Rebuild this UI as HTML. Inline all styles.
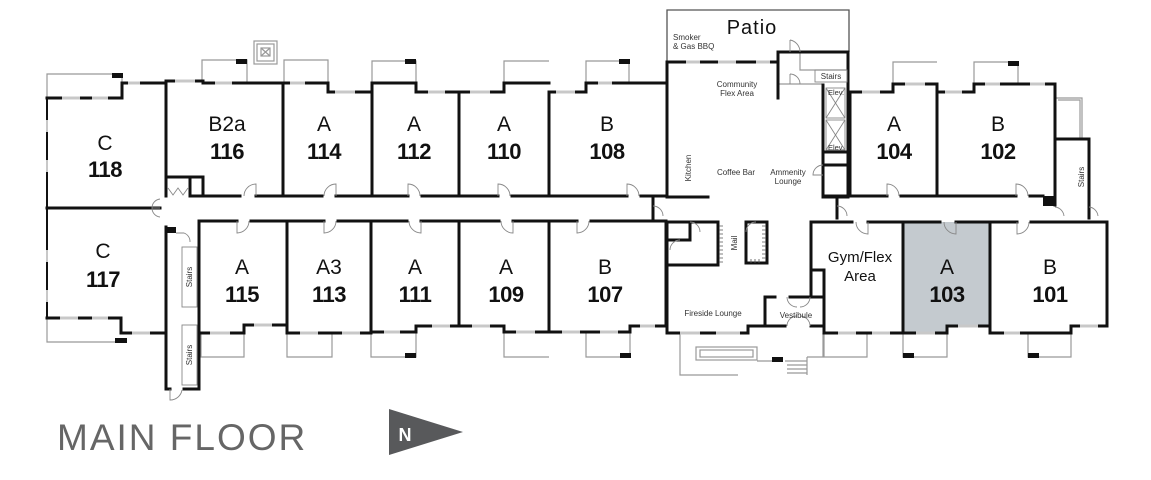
<!DOCTYPE html>
<html><head><meta charset="utf-8"><style>
html,body{margin:0;padding:0;background:#fff;}
svg{display:block;}
.w{fill:none;stroke:#111;stroke-width:3;stroke-linecap:square;}
.wt{fill:none;stroke:#111;stroke-width:2;}
.t{fill:none;stroke:#999;stroke-width:1.2;}
.d{fill:none;stroke:#888;stroke-width:0.9;}
.g{fill:none;stroke:#c8c8c8;stroke-width:3;}
.L{font-family:"Liberation Sans",sans-serif;font-size:21px;fill:#111;text-anchor:middle;}
.N{font-family:"Liberation Sans",sans-serif;font-size:22px;font-weight:bold;fill:#111;text-anchor:middle;letter-spacing:-0.5px;}
.s{font-family:"Liberation Sans",sans-serif;font-size:8px;fill:#333;text-anchor:middle;}
</style></head><body>
<svg width="1151" height="480" viewBox="0 0 1151 480" xmlns="http://www.w3.org/2000/svg">
<rect width="1151" height="480" fill="#fff"/>
<!-- unit 103 fill -->
<path d="M903,222 H990 V326 H947 V333 H903 Z" fill="#c4cacf"/>

<!-- Balconies thin -->
<g class="t">
<path d="M47,98 V74 H122 V83"/>
<path d="M202,81 V60 H247 V83"/>
<rect x="254" y="41" width="23" height="23"/>
<rect x="257" y="44" width="17" height="17"/>
<rect x="261" y="48" width="9" height="8"/>
<path d="M261,48 L270,56 M270,48 L261,56"/>
<path d="M284,83 V60 H328 V92"/>
<path d="M372,83 V61 H416 V83"/>
<path d="M504,83 V61 H549"/>
<path d="M586,83 V61 H629 V83"/>
<path d="M893,84 V62 H937"/>
<path d="M974,84 V62 H1018 V84"/>
<path d="M1055,98 H1082 V139"/>
<path d="M1058,100 H1080 V139"/>
<path d="M47,318 V342 H121"/>
<path d="M201,333 V357 H244 V333"/>
<path d="M287,333 V357 H332 V333"/>
<path d="M371,332 V357 H416 V332"/>
<path d="M504,332 V357 H549"/>
<path d="M586,332 V357 H630 V332"/>
<path d="M824,333 V357 H867 V333"/>
<path d="M903,333 V357 H947 V333"/>
<path d="M1028,333 V357 H1071 V333"/>
<path d="M680,333 V375 H738"/>
<rect x="696" y="347" width="61" height="13"/>
<rect x="700" y="350" width="53" height="7"/>
<path d="M757,361 H783 M785,361 H807 M787,365 H807 M787,369 H807 M787,373 H807 M807,357 V375 M807,357 H823 V333"/>
<path d="M800,52 V70 H848"/>
<path d="M778,84 H822"/>
<path d="M1055,139 V200"/>
</g>
<!-- black blocks -->
<g fill="#111">
<rect x="112" y="73" width="11" height="5"/>
<rect x="236" y="59" width="11" height="5"/>
<rect x="405" y="59" width="11" height="5"/>
<rect x="619" y="59" width="11" height="5"/>
<rect x="1008" y="61" width="11" height="5"/>
<rect x="115" y="338" width="12" height="5"/>
<rect x="405" y="353" width="11" height="5"/>
<rect x="620" y="353" width="11" height="5"/>
<rect x="903" y="353" width="11" height="5"/>
<rect x="1028" y="353" width="11" height="5"/>
<rect x="772" y="357" width="11" height="5"/>
<rect x="165" y="227" width="11" height="6"/>
<rect x="1043" y="196" width="12" height="10"/>
</g>

<!-- Patio -->
<path d="M667,62 V10 H849 V52" class="wt" style="stroke:#555;stroke-width:1.3"/>

<!-- walls -->
<g class="w">
<path d="M47,98 H122 V83 H166"/>
<path d="M166,81 H203 V83 H283"/>
<path d="M283,83 H328 V92 H372"/>
<path d="M372,83 H416 V92 H459"/>
<path d="M459,92 H504 V83 H549"/>
<path d="M549,92 H586 V83 H666"/>
<path d="M850,92 H893 V84 H937"/>
<path d="M937,92 H974 V84 H1055"/>
<path d="M166,81 V196"/>
<path d="M283,83 V196"/>
<path d="M372,83 V196"/>
<path d="M459,92 V196"/>
<path d="M549,92 V196"/>
<path d="M667,62 V197"/>
<path d="M850,92 V196"/>
<path d="M937,84 V196"/>
<path d="M1055,84 V205"/>
<path d="M1089,139 V218"/>
<path d="M1055,139 H1089"/>
<path d="M190,196 H240 M256,196 H322 M336,196 H408 M422,196 H498 M512,196 H627 M641,196 H667"/>
<path d="M667,197 H708"/>
<path d="M823,196 H887 M901,196 H1016 M1030,196 H1043"/>
<path d="M166,177 H203 V195 M190,177 V195"/>
<path d="M47,208 H160"/>
<path d="M47,98 V318" style="stroke-width:2"/>
<path d="M166,227 V389 M199,221 V389"/>
<path d="M166,389 H170 M184,389 H199"/>
<path d="M199,221 H237 M251,221 H324 M338,221 H407 M421,221 H499 M513,221 H577 M591,221 H666"/>
<path d="M811,222 H852 M868,222 H940 M956,222 H1017 M1031,222 H1107"/>
<path d="M287,221 V333"/>
<path d="M371,221 V332"/>
<path d="M459,221 V326"/>
<path d="M549,221 V332"/>
<path d="M666,221 V326"/>
<path d="M903,222 V333"/>
<path d="M990,222 V333"/>
<path d="M1107,222 V326"/>
<path d="M811,222 V270 H824 V333"/>
<path d="M47,318 H121 V333 H166"/>
<path d="M199,333 H244 V325 H287"/>
<path d="M287,333 H371"/>
<path d="M371,332 H416 V326 H459"/>
<path d="M459,326 H504 V332 H549"/>
<path d="M549,332 H630 V326 H666"/>
<path d="M824,333 H903"/>
<path d="M903,333 H947 V326 H990"/>
<path d="M990,333 H1071 V326 H1107"/>
<path d="M667,62 H778 V98"/>
<path d="M778,52 H848 V197"/>
<path d="M778,52 V62"/>
<path d="M823,85 V197"/>
<path d="M823,152 H848 M823,165 H848"/>
<path d="M823,197 H848"/>
<path d="M667,222 V333 H748 V326 H765"/>
<path d="M667,265 H718 V222 M667,222 H718"/>
<path d="M667,240 H690 V222"/>
<path d="M746,263 V222 H767 V263 Z"/>
<path d="M765,326 V297 H775 M790,297 H823"/>
<path d="M765,326 H785 M811,326 H823"/>
<path d="M811,270 V297"/>
<path d="M653,197 V218"/>
<path d="M837,197 V218"/>
</g>
<g stroke="#555" stroke-width="0.8">
<path d="M719,226 H723 M719,230 H723 M719,234 H723 M719,238 H723 M719,242 H723 M719,246 H723 M719,250 H723 M719,254 H723 M719,258 H723 M719,262 H723"/>
<path d="M762,226 H766 M762,230 H766 M762,234 H766 M762,238 H766 M762,242 H766 M762,246 H766 M762,250 H766 M762,254 H766 M762,258 H766"/>
<path d="M751,259 V263 M755,259 V263 M759,259 V263"/>
</g>
<g class="d">
<rect x="826" y="88" width="19" height="30"/>
<rect x="826" y="120" width="19" height="30"/>
<path d="M826,88 L845,118 M845,88 L826,118 M826,120 L845,150 M845,120 L826,150"/>
<rect x="815" y="70" width="32" height="12"/>
<rect x="182" y="247" width="15" height="60"/>
<rect x="182" y="325" width="15" height="60"/>
</g>
<g class="g">
<path d="M62,98 H80 M92,98 H108 M128,83 H140 M175,81 H195 M215,83 H232 M290,83 H305 M335,92 H355 M428,92 H445 M470,92 H490 M556,92 H575 M598,83 H612 M686,62 H700 M718,62 H736 M756,62 H770 M862,92 H880 M905,84 H925 M945,92 H962 M985,84 H1000 M1030,84 H1045"/>
<path d="M60,318 H78 M92,318 H108 M132,333 H150 M210,333 H230 M254,325 H272 M300,333 H318 M342,333 H360 M384,332 H400 M432,326 H450 M472,326 H490 M516,332 H535 M562,332 H580 M600,332 H618 M640,326 H655 M838,333 H856 M872,333 H890 M916,333 H935 M958,326 H978 M1004,333 H1020 M1080,326 H1098 M680,333 H700 M716,333 H740"/>
<path d="M47,120 V132 M47,160 V172 M47,250 V262 M47,290 V302" style="stroke-width:2"/>
</g>
<g class="d">
<path d="M256,196 V184 A12,12 0 0 0 244,196"/>
<path d="M336,196 V184 A12,12 0 0 0 324,196"/>
<path d="M408,196 V184 A12,12 0 0 1 420,196"/>
<path d="M498,196 V184 A12,12 0 0 1 510,196"/>
<path d="M627,196 V184 A12,12 0 0 1 639,196"/>
<path d="M887,196 V184 A12,12 0 0 1 899,196"/>
<path d="M1016,196 V184 A12,12 0 0 1 1028,196"/>
<path d="M237,221 V233 A12,12 0 0 0 249,221"/>
<path d="M324,221 V233 A12,12 0 0 0 336,221"/>
<path d="M421,221 V233 A12,12 0 0 1 409,221"/>
<path d="M513,221 V233 A12,12 0 0 1 501,221"/>
<path d="M577,221 V233 A12,12 0 0 0 589,221"/>
<path d="M868,222 V234 A12,12 0 0 1 856,222"/>
<path d="M956,222 V234 A12,12 0 0 1 944,222"/>
<path d="M1017,222 V234 A12,12 0 0 0 1029,222"/>
<path d="M160,208 H152 A9,9 0 0 1 160,199 M160,208 H152 A9,9 0 0 0 160,217"/>
<path d="M176,233 H184 A9,9 0 0 1 190,242"/>
<path d="M170,389 V400 A12,12 0 0 0 182,390"/>
<path d="M653,206 A10,10 0 0 1 663,216"/>
<path d="M837,206 A10,10 0 0 1 847,216"/>
<path d="M1055,207 A10,10 0 0 1 1064,216"/>
<path d="M1089,207 A10,10 0 0 1 1098,216"/>
<path d="M823,175 H813 A10,10 0 0 1 823,165"/>
<path d="M790,40 V52 M790,40 A12,12 0 0 1 800,52"/>
<path d="M790,74 V84 M790,74 A10,10 0 0 1 800,84"/>
<path d="M690,222 A10,10 0 0 1 700,232"/>
<path d="M670,250 A10,10 0 0 1 680,240"/>
<path d="M746,232 A10,10 0 0 1 756,222"/>
<path d="M168,188 L173,195 L178,188 L183,195 L188,188"/>
<path d="M787,297 A10,10 0 0 0 797,307 M810,297 A10,10 0 0 1 800,307"/>
<path d="M787,326 A10,10 0 0 1 797,316 M810,326 A10,10 0 0 0 800,316"/>
</g>

<text class="L" x="105" y="150">C</text><text class="N" x="105" y="177">118</text>
<text class="L" x="227" y="131">B2a</text><text class="N" x="227" y="159">116</text>
<text class="L" x="324" y="131">A</text><text class="N" x="324" y="159">114</text>
<text class="L" x="414" y="131">A</text><text class="N" x="414" y="159">112</text>
<text class="L" x="504" y="131">A</text><text class="N" x="504" y="159">110</text>
<text class="L" x="607" y="131">B</text><text class="N" x="607" y="159">108</text>
<text class="L" x="894" y="131">A</text><text class="N" x="894" y="159">104</text>
<text class="L" x="998" y="131">B</text><text class="N" x="998" y="159">102</text>
<text class="L" x="103" y="258">C</text><text class="N" x="103" y="287">117</text>
<text class="L" x="242" y="274">A</text><text class="N" x="242" y="302">115</text>
<text class="L" x="329" y="274">A3</text><text class="N" x="329" y="302">113</text>
<text class="L" x="415" y="274">A</text><text class="N" x="415" y="302">111</text>
<text class="L" x="506" y="274">A</text><text class="N" x="506" y="302">109</text>
<text class="L" x="605" y="274">B</text><text class="N" x="605" y="302">107</text>
<text class="L" x="947" y="274">A</text><text class="N" x="947" y="302">103</text>
<text class="L" x="1050" y="274">B</text><text class="N" x="1050" y="302">101</text>
<text class="L" x="860" y="262" style="font-size:15px">Gym/Flex</text>
<text class="L" x="860" y="281" style="font-size:15px">Area</text>

<text x="752" y="34" style="font-family:'Liberation Sans',sans-serif;font-size:20px;fill:#111;text-anchor:middle;letter-spacing:1px">Patio</text>
<text class="s" x="673" y="40" style="text-anchor:start">Smoker</text>
<text class="s" x="673" y="49" style="text-anchor:start">&amp; Gas BBQ</text>
<text class="s" x="737" y="87">Community</text>
<text class="s" x="737" y="96">Flex Area</text>
<text class="s" x="831" y="79">Stairs</text>
<text class="s" x="836" y="95" style="font-size:7.5px">Elev.</text>
<text class="s" x="836" y="150" style="font-size:7.5px">Elev.</text>
<text class="s" x="736" y="175">Coffee Bar</text>
<text class="s" x="788" y="175">Ammenity</text>
<text class="s" x="788" y="184">Lounge</text>
<text class="s" transform="translate(691,168) rotate(-90)">Kitchen</text>
<text class="s" transform="translate(737,243) rotate(-90)">Mail</text>
<text class="s" x="713" y="316">Fireside Lounge</text>
<text class="s" x="796" y="318">Vestibule</text>
<text class="s" transform="translate(192,277) rotate(-90)">Stairs</text>
<text class="s" transform="translate(192,355) rotate(-90)">Stairs</text>
<text class="s" transform="translate(1084,177) rotate(-90)">Stairs</text>

<text x="57" y="450" style="font-family:'Liberation Sans',sans-serif;font-size:37px;fill:#666;letter-spacing:2px">MAIN FLOOR</text>
<polygon points="389,409 389,455 463,432" fill="#58595b"/>
<text x="405" y="441" style="font-family:'Liberation Sans',sans-serif;font-size:18px;font-weight:bold;fill:#fff;text-anchor:middle">N</text>
</svg>
</body></html>
